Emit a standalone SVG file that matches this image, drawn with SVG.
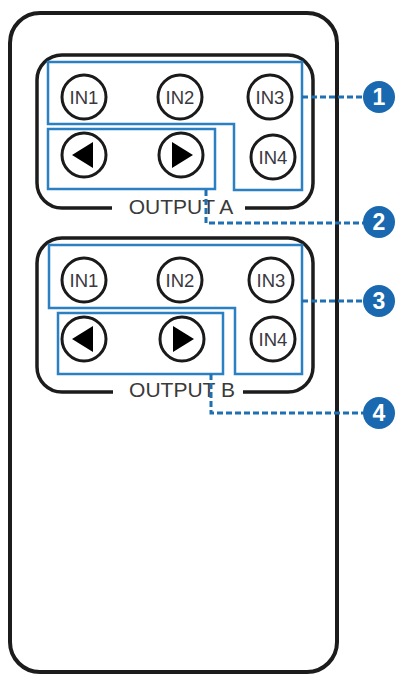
<svg xmlns="http://www.w3.org/2000/svg" width="407" height="676" viewBox="0 0 407 676">
<style>
.frame{fill:none;stroke:#1c1c1c;stroke-width:4}
.panel{fill:none;stroke:#1c1c1c;stroke-width:3.5}
.btn{fill:#fff;stroke:#1a1a1a;stroke-width:3}
.lbl{font-family:"Liberation Sans",Arial,sans-serif;font-size:18.5px;fill:#3a3840;text-anchor:middle}
.out{font-family:"Liberation Sans",Arial,sans-serif;font-size:21px;fill:#3a3a3a;text-anchor:middle}
.sel{fill:none;stroke:#2a80c2;stroke-width:2.5}
.dash{fill:none;stroke:#1f6fb3;stroke-width:3;stroke-dasharray:6 3}
.badge{fill:#1a69b0}
.num{font-family:"Liberation Sans",Arial,sans-serif;font-size:23px;font-weight:bold;fill:#fff;text-anchor:middle}
.tri{fill:#000}
</style>
<rect width="407" height="676" fill="#fff"/>
<g id="remote">
<rect class="frame" x="10" y="13" width="327" height="659" rx="30"/>
</g>
<g id="panelA">
<path class="panel" d="M112,208 H62 A25,25 0 0 1 37,183 V80 A25,25 0 0 1 62,55 H288 A25,25 0 0 1 313,80 V183 A25,25 0 0 1 288,208 H245"/>
<text class="out" x="181" y="214">OUTPUT A</text>
</g>
<g id="panelB">
<path class="panel" d="M113,392 H62 A25,25 0 0 1 37,367 V263 A25,25 0 0 1 62,238 H288 A25,25 0 0 1 313,263 V367 A25,25 0 0 1 288,392 H243"/>
<text class="out" x="182" y="397">OUTPUT B</text>
</g>
<g id="buttonsA">
<g id="a-in1"><circle class="btn" cx="84" cy="97" r="22"/><text class="lbl" x="84" y="104">IN1</text></g>
<g id="a-in2"><circle class="btn" cx="180" cy="97" r="22"/><text class="lbl" x="180" y="104">IN2</text></g>
<g id="a-in3"><circle class="btn" cx="270" cy="97" r="22"/><text class="lbl" x="270" y="104">IN3</text></g>
<g id="a-in4"><circle class="btn" cx="273" cy="157" r="22"/><text class="lbl" x="273" y="164">IN4</text></g>
<g id="a-left"><circle class="btn" cx="84" cy="155" r="22"/><polygon class="tri" points="72,155 93,142 93,168"/></g>
<g id="a-right"><circle class="btn" cx="181" cy="155" r="22"/><polygon class="tri" points="193,155 172,142 172,168"/></g>
</g>
<g id="buttonsB">
<g id="b-in1"><circle class="btn" cx="84" cy="280" r="22"/><text class="lbl" x="84" y="287">IN1</text></g>
<g id="b-in2"><circle class="btn" cx="180" cy="280" r="22"/><text class="lbl" x="180" y="287">IN2</text></g>
<g id="b-in3"><circle class="btn" cx="271" cy="280" r="22"/><text class="lbl" x="271" y="287">IN3</text></g>
<g id="b-in4"><circle class="btn" cx="273" cy="339" r="22"/><text class="lbl" x="273" y="346">IN4</text></g>
<g id="b-left"><circle class="btn" cx="84" cy="339" r="22"/><polygon class="tri" points="72,339 93,326 93,352"/></g>
<g id="b-right"><circle class="btn" cx="182" cy="339" r="22"/><polygon class="tri" points="194,339 173,326 173,352"/></g>
</g>
<g id="selections">
<path id="sel1" class="sel" d="M48,62 H302 V190 H234 V124 H48 Z"/>
<rect id="sel2" class="sel" x="48" y="129" width="167" height="60"/>
<path id="sel3" class="sel" d="M49,245 H302 V374 H235 V308 H49 Z"/>
<rect id="sel4" class="sel" x="58" y="313" width="165" height="61"/>
</g>
<g id="connectors">
<path class="dash" d="M302,97 H364"/>
<path class="dash" d="M206,190 V223 H364"/>
<path class="dash" d="M302,301 H364"/>
<path class="dash" d="M211,374 V413 H364"/>
</g>
<g id="badge1"><circle class="badge" cx="379" cy="97" r="16"/><text class="num" x="379" y="105">1</text></g>
<g id="badge2"><circle class="badge" cx="379" cy="222" r="16"/><text class="num" x="379" y="230">2</text></g>
<g id="badge3"><circle class="badge" cx="379" cy="301" r="16"/><text class="num" x="379" y="309">3</text></g>
<g id="badge4"><circle class="badge" cx="379" cy="413" r="16"/><text class="num" x="379" y="421">4</text></g>
</svg>
